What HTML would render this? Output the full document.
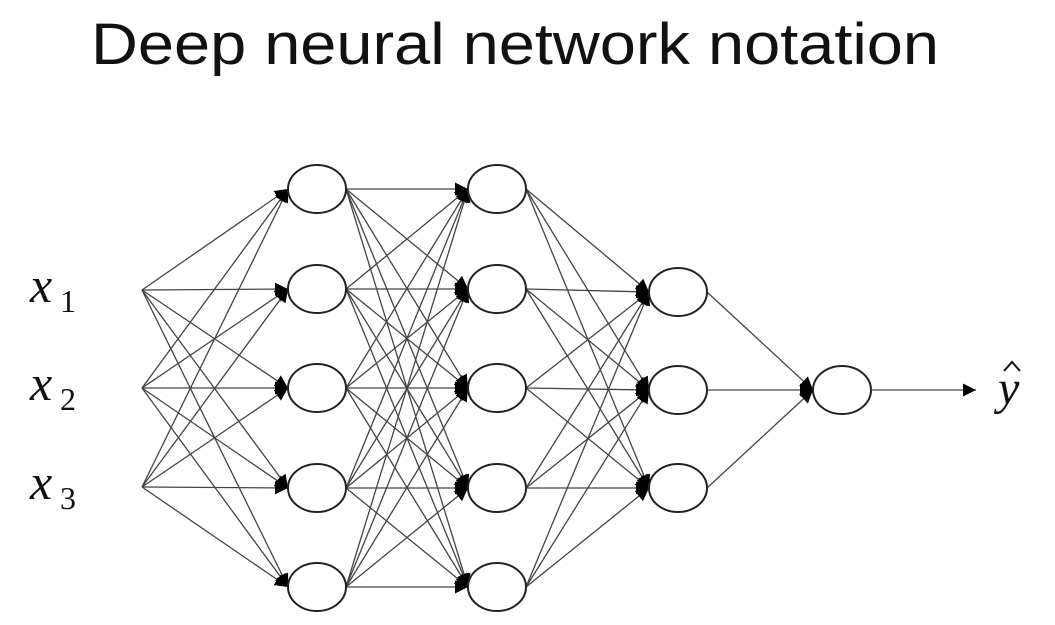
<!DOCTYPE html>
<html><head><meta charset="utf-8"><style>
html,body{margin:0;padding:0;background:#fff;}
svg{display:block;}
</style></head><body>
<svg id="s" width="1055" height="625" viewBox="0 0 1055 625" xmlns="http://www.w3.org/2000/svg">
<defs>
<marker id="a" viewBox="0 0 10 10" refX="10" refY="5" markerWidth="13" markerHeight="13" markerUnits="userSpaceOnUse" orient="auto">
<path d="M0,0 L10,5 L0,10 z" fill="#000"/>
</marker>
</defs>
<text x="515" y="64" text-anchor="middle" font-family="Liberation Sans, sans-serif" font-size="58" textLength="848" lengthAdjust="spacingAndGlyphs" fill="#111">Deep neural network notation</text>
<g id="lines" stroke="#444" stroke-width="1.3" fill="none"></g>
<g id="nodes" stroke="#222" stroke-width="2" fill="#fff"></g>
<line x1="871" y1="390" x2="976" y2="390" stroke="#444" stroke-width="1.3" marker-end="url(#a)"/>
<g font-family="Liberation Serif, serif" font-style="italic" fill="#111">
<text x="30" y="302" font-size="50">x</text><text x="60" y="312" font-size="32" font-style="normal">1</text>
<text x="30" y="400" font-size="50">x</text><text x="60" y="410" font-size="32" font-style="normal">2</text>
<text x="30" y="499" font-size="50">x</text><text x="60" y="509" font-size="32" font-style="normal">3</text>
<text x="998" y="404" font-size="48">y</text>
</g>
<path d="M1004,371 L1012,362 L1020,371" stroke="#111" stroke-width="2" fill="none"/>
</svg>
<script>
var ns="http://www.w3.org/2000/svg";
var L=document.getElementById("lines"),N=document.getElementById("nodes");
var inp=[[142,290],[142,388],[142,487]];
var r5=[189,289,388,488,587],r3=[292,390,488];
var l1=r5.map(function(y){return[317,y]}),l2=r5.map(function(y){return[497,y]}),l3=r3.map(function(y){return[678,y]}),l4=[[842,390]];
var rx=29,ry=24;
function line(x1,y1,x2,y2){var e=document.createElementNS(ns,"line");e.setAttribute("x1",x1);e.setAttribute("y1",y1);e.setAttribute("x2",x2);e.setAttribute("y2",y2);e.setAttribute("marker-end","url(#a)");L.appendChild(e);}
function conn(A,B,src){A.forEach(function(a){B.forEach(function(b){line(src?a[0]:a[0]+rx,a[1],b[0]-rx,b[1]);});});}
conn(inp,l1,true);conn(l1,l2);conn(l2,l3);conn(l3,l4);
[l1,l2,l3,l4].forEach(function(l){l.forEach(function(p){var e=document.createElementNS(ns,"ellipse");e.setAttribute("cx",p[0]);e.setAttribute("cy",p[1]);e.setAttribute("rx",rx);e.setAttribute("ry",ry);N.appendChild(e);});});
</script>
</body></html>
